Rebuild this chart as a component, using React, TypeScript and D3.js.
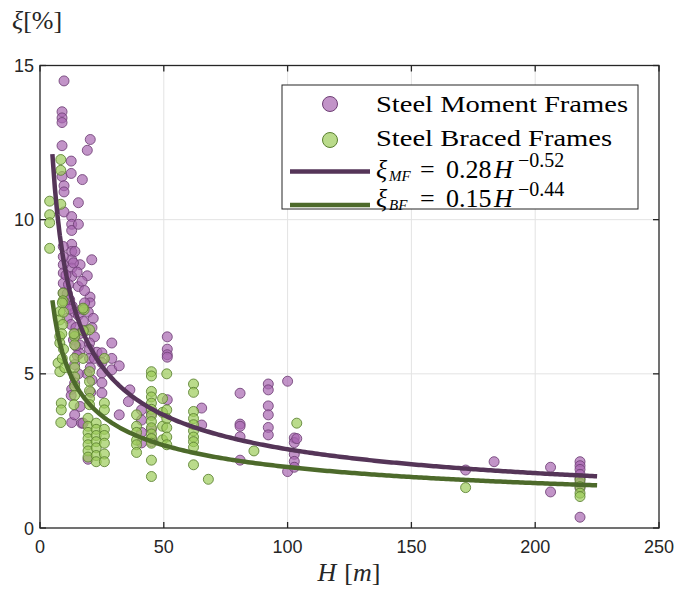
import * as d3 from 'd3';

// scatter data, [H in m, damping ratio in %]
const momentFrames: [number, number][] = [
  [9.7, 14.5], [8.9, 13.5], [8.9, 13.3], [8.9, 13.15], [8.9, 12.4], [20.3, 12.6], [19.1, 12.25],
  [12.6, 11.9], [12.6, 11.5], [17.1, 11.3], [8.9, 11.4], [9.7, 11.1], [9.7, 10.9], [15.5, 10.55],
  [9.7, 10.25], [12.8, 10.1], [12.8, 9.85], [12.8, 9.65], [15.5, 9.85], [12.8, 9.2], [12.8, 8.97],
  [12.8, 8.7], [12.8, 8.43], [12.8, 8.16], [9.4, 9.13], [9.4, 8.8], [9.4, 8.54], [9.4, 8.27],
  [9.4, 7.94], [9.4, 7.62], [20.9, 8.7], [19.1, 8.18], [14.1, 8.97], [16.2, 8.54], [15.5, 7.83],
  [20.2, 7.49], [20.2, 7.3], [10.5, 8.2], [11.5, 7.9], [13.5, 8.6], [15, 8.3], [17, 8.0], [18, 7.7],
  [11, 7.6], [12, 7.4], [13, 7.2], [14, 7.0], [15.5, 6.9], [17, 7.1], [18, 7.3], [11, 6.8],
  [12.5, 6.6], [14.5, 6.5], [16, 6.3], [17.5, 6.7], [18.5, 6.4], [13.5, 6.1], [16, 5.94], [16, 5.67],
  [10, 7.3], [12, 7.1], [19.5, 7.0], [21.5, 6.8], [22, 6.2], [21, 6.5], [20, 6.0], [20, 5.8],
  [20, 5.5], [20.3, 5.2], [19, 5.0], [21, 4.8], [22, 5.5], [23, 5.7], [14, 6.3], [14.5, 5.9],
  [15, 5.6], [14, 5.3], [15.5, 5.0], [14, 4.7], [12.8, 4.5], [12.6, 4.3], [16.2, 3.94], [16.8, 3.4],
  [12.8, 3.42], [14, 3.67], [17.4, 3.4], [19.4, 2.23], [20.5, 4.4], [25, 5.68], [25, 5.36],
  [25, 5.03], [25, 4.71], [25, 4.38], [29, 6.0], [29, 5.5], [29, 5.13], [32, 5.26], [36.3, 4.48],
  [35.7, 4.1], [32, 3.67], [41, 3.83], [41, 3.5], [41, 3.1], [41, 2.76], [51.4, 6.2], [51.4, 5.8],
  [51.4, 5.62], [51.4, 5.54], [51.4, 4.16], [45, 3.7], [45, 3.2], [45, 2.9], [45, 2.8], [65.3, 3.89],
  [65.3, 3.34], [80.8, 4.37], [80.8, 3.37], [80.8, 3.3], [80.8, 2.96], [80.8, 2.2], [92.2, 4.67],
  [92.2, 4.48], [92.2, 3.96], [92.2, 3.67], [92.2, 3.26], [92.2, 3.02], [100, 4.76], [100, 1.83],
  [102.7, 2.92], [102.7, 2.77], [102.7, 2.39], [102.7, 2.16], [102.7, 1.97], [103.7, 2.9],
  [171.9, 1.88], [183.4, 2.15], [206.2, 1.97], [206.2, 1.17], [218.1, 2.15], [218.1, 2.02],
  [218.1, 1.9], [218.1, 1.74], [218.1, 1.6], [218.1, 1.45], [218.1, 1.3], [218.1, 0.35],
];

const bracedFrames: [number, number][] = [
  [3.9, 10.6], [3.9, 10.16], [3.9, 9.9], [3.9, 9.07], [8.4, 10.5], [8.4, 11.95], [8.4, 11.6],
  [9.3, 7.62], [9.3, 7.37], [8, 7.02], [8, 6.75], [17.8, 7.08], [8, 6.21], [8, 6.0], [7.3, 5.35],
  [8, 5.07], [9, 7.3], [9.5, 7.0], [9.2, 6.6], [8.8, 6.3], [9.5, 5.8], [9, 5.5], [10, 5.2],
  [14, 6.21], [14, 5.94], [14, 5.5], [14, 5.2], [14, 4.9], [14, 4.6], [14, 4.3], [13.7, 6.3],
  [17.4, 5.5], [20, 6.43], [17.4, 7.13], [17.5, 6.4], [20, 5.07], [20, 4.75], [20, 4.45],
  [20, 4.2], [20, 4.0], [26, 5.5], [26, 4.05], [8.6, 4.05], [8.6, 3.83], [13.7, 4.0], [8.4, 3.42],
  [19.4, 3.56], [19.4, 3.3], [19.4, 3.1], [19.4, 2.9], [19.4, 2.7], [19.4, 2.5], [19.4, 2.3],
  [22.7, 3.4], [22.7, 3.2], [22.7, 3.0], [22.7, 2.8], [22.7, 2.6], [22.7, 2.35], [22.7, 2.15],
  [26, 3.83], [26, 3.2], [26, 3.0], [26, 2.75], [26, 2.4], [26, 2.15],
  [39, 3.67], [39, 3.3], [39, 3.1], [39, 2.85], [39, 2.7], [39, 2.45],
  [45, 5.07], [45, 4.93], [45, 4.43], [45, 4.25], [45, 4.05], [45, 3.85], [45, 3.65], [45, 3.45],
  [45, 3.25], [45, 3.05], [45, 2.9], [45, 2.75], [45, 2.2], [45, 1.67],
  [49.5, 4.2], [49.5, 3.75], [49.5, 3.3], [49.5, 2.86],
  [51.2, 5.0], [51.2, 3.83], [51.2, 3.55], [51.2, 3.25], [51.2, 2.95], [51.2, 2.7],
  [62, 4.67], [62, 4.4], [62, 3.78], [62, 3.55], [62, 3.35], [62, 3.15], [62, 2.95], [62, 2.8],
  [62, 2.62], [62, 2.05], [68, 1.58], [86.4, 2.5], [103.7, 3.4], [171.9, 1.31],
  [218.1, 1.56], [218.1, 1.34], [218.1, 1.13], [218.1, 1.02],
];

// power-law fits from the legend: xi = a * H^b (fraction -> %)
const mfFit = { a: 0.28, b: -0.52 };
const bfFit = { a: 0.15, b: -0.44 };
const fitRange = [5, 225];

const xTicks = [0, 50, 100, 150, 200, 250];
const yTicks = [0, 5, 10, 15];

const W = 676;
const H = 590;
const left = 40, right = 659, top = 65.5, bottom = 528;

const mfColor = '#a866b0';
const mfEdge = '#6e3f75';
const bfColor = '#9ccc5a';
const bfEdge = '#5a8030';
const mfLine = '#553558';
const bfLine = '#4d6a2b';
const axisColor = '#262626';
const serif = '"Liberation Serif", "Times New Roman", serif';
const sans = '"Liberation Sans", Arial, sans-serif';

// one legend formula row, split into pieces so the rows can sit close
const Formula = ({ x, y, sub, coef, exp }: { x: number; y: number; sub: string; coef: string; exp: string }) => (
  <g fontFamily={serif} fill="#000">
    <text x={x} y={y} fontSize={26} fontStyle="italic">ξ</text>
    <text x={x + 13} y={y + 3} fontSize={15} fontStyle="italic">{sub}</text>
    <text x={x + 44} y={y} fontSize={26}>=</text>
    <text x={x + 70} y={y} fontSize={26}>{coef}</text>
    <text x={x + 118} y={y} fontSize={26} fontStyle="italic">H</text>
    <text x={x + 142} y={y - 11} fontSize={20}>{exp}</text>
  </g>
);

export default function App() {
  const x = d3.scaleLinear().domain([0, 250]).range([left, right]);
  const y = d3.scaleLinear().domain([0, 15]).range([bottom, top]);

  const fitH = d3.range(fitRange[0], fitRange[1] + 0.5, 1);
  const line = d3.line<number>().x((h) => x(h));
  const mfPath = line.y((h) => y(100 * mfFit.a * Math.pow(h, mfFit.b)))(fitH) || '';
  const bfPath = line.y((h) => y(100 * bfFit.a * Math.pow(h, bfFit.b)))(fitH) || '';

  return (
    <svg width={W} height={H} style={{ position: 'absolute', left: 0, top: 0, background: '#fff' }}>
      {/* grid */}
      <g stroke="#e3e3e3" strokeWidth={1}>
        {xTicks.slice(1, -1).map((t) => (
          <line key={'gx' + t} x1={x(t)} x2={x(t)} y1={top} y2={bottom} />
        ))}
        {yTicks.slice(1, -1).map((t) => (
          <line key={'gy' + t} x1={left} x2={right} y1={y(t)} y2={y(t)} />
        ))}
      </g>

      {/* scatter */}
      <g fill={mfColor} fillOpacity={0.7} stroke={mfEdge} strokeOpacity={0.85} strokeWidth={1}>
        {momentFrames.map((d, i) => (
          <circle key={i} cx={x(d[0])} cy={y(d[1])} r={5} />
        ))}
      </g>
      <g fill={bfColor} fillOpacity={0.7} stroke={bfEdge} strokeOpacity={0.85} strokeWidth={1}>
        {bracedFrames.map((d, i) => (
          <circle key={i} cx={x(d[0])} cy={y(d[1])} r={5} />
        ))}
      </g>

      {/* fits */}
      <path d={mfPath} fill="none" stroke={mfLine} strokeWidth={4.5} />
      <path d={bfPath} fill="none" stroke={bfLine} strokeWidth={4.5} />

      {/* box + ticks */}
      <rect x={left} y={top} width={right - left} height={bottom - top} fill="none" stroke={axisColor} strokeWidth={1.3} />
      <g stroke={axisColor} strokeWidth={1.3}>
        {xTicks.map((t) => (
          <g key={'tx' + t}>
            <line x1={x(t)} x2={x(t)} y1={bottom} y2={bottom - 6} />
            <line x1={x(t)} x2={x(t)} y1={top} y2={top + 6} />
          </g>
        ))}
        {yTicks.map((t) => (
          <g key={'ty' + t}>
            <line x1={left} x2={left + 6} y1={y(t)} y2={y(t)} />
            <line x1={right} x2={right - 6} y1={y(t)} y2={y(t)} />
          </g>
        ))}
      </g>
      <g fill={axisColor} fontFamily={sans} fontSize={18}>
        {xTicks.map((t) => (
          <text key={'lx' + t} x={x(t)} y={553} textAnchor="middle">{t}</text>
        ))}
        {yTicks.map((t) => (
          <text key={'ly' + t} x={34} y={y(t) + 6.5} textAnchor="end">{t}</text>
        ))}
      </g>

      {/* axis labels */}
      <text x={349} y={581} textAnchor="middle" fontFamily={serif} fontSize={26} fill={axisColor}>
        <tspan fontStyle="italic">H</tspan>
        <tspan dx={8}>[</tspan>
        <tspan fontStyle="italic">m</tspan>
        <tspan>]</tspan>
      </text>
      <text x={12} y={29} fontFamily={serif} fontSize={26} fill={axisColor}>
        <tspan fontStyle="italic">ξ</tspan>
        <tspan>[%]</tspan>
      </text>

      {/* legend */}
      <rect x={282} y={85} width={356} height={124} fill="#fff" stroke={axisColor} strokeWidth={1} />
      <circle cx={330} cy={104} r={7.5} fill={mfColor} fillOpacity={0.7} stroke={mfEdge} strokeWidth={1} />
      <circle cx={330} cy={140} r={7.5} fill={bfColor} fillOpacity={0.7} stroke={bfEdge} strokeWidth={1} />
      <line x1={290} x2={370} y1={171.5} y2={171.5} stroke={mfLine} strokeWidth={4.5} />
      <line x1={290} x2={370} y1={205} y2={205} stroke={bfLine} strokeWidth={4.5} />
      <g fontFamily={serif} fill="#000">
        <text x={376} y={112} fontSize={24} textLength={252} lengthAdjust="spacingAndGlyphs">Steel Moment Frames</text>
        <text x={376} y={146} fontSize={24} textLength={236} lengthAdjust="spacingAndGlyphs">Steel Braced Frames</text>
      </g>
      <Formula x={376} y={178} sub="MF" coef="0.28" exp="−0.52" />
      <Formula x={376} y={207} sub="BF" coef="0.15" exp="−0.44" />
    </svg>
  );
}
